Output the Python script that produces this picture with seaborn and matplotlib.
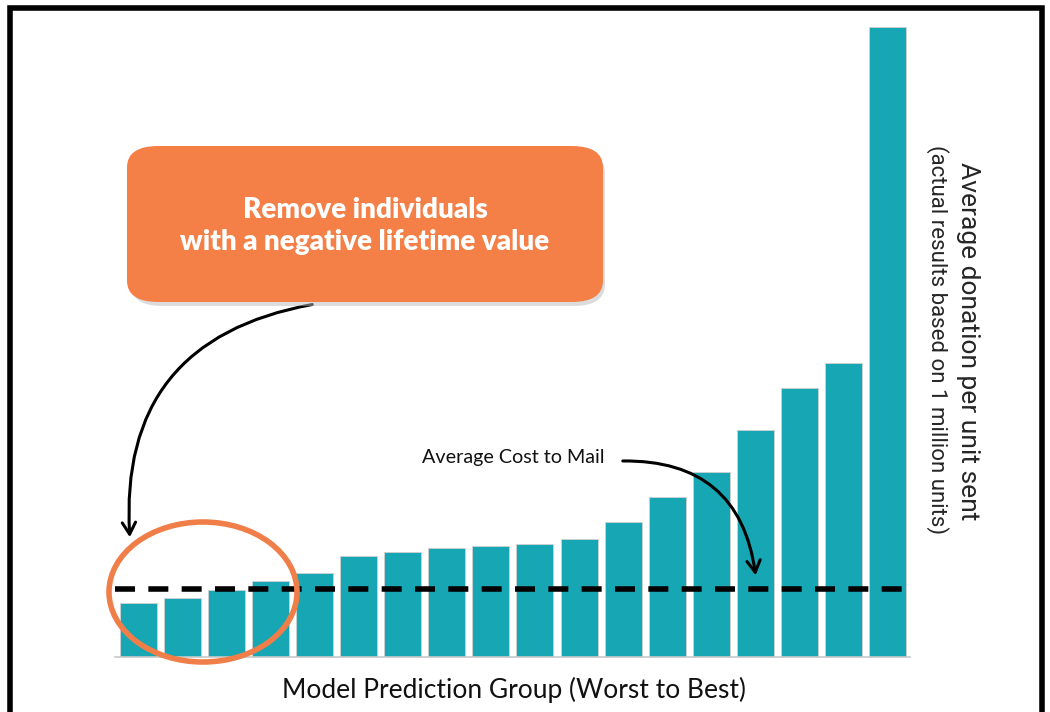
import numpy as np
import pandas as pd
import seaborn as sns
import matplotlib.pyplot as plt
from matplotlib.patches import Ellipse, FancyBboxPatch, Rectangle

# Dados (doação média por grupo, pior -> melhor)
groups = [f"G{i}" for i in range(1, 19)]
donation = [0.54, 0.59, 0.67, 0.76, 0.84, 1.01, 1.05, 1.09, 1.11,
            1.13, 1.18, 1.35, 1.60, 1.85, 2.27, 2.69, 2.94, 6.30]
avg_cost = 0.68

df = pd.DataFrame({"grupo": groups, "doacao": donation})

sns.set_theme(style="white")
plt.rcParams["font.family"] = ["Lato", "DejaVu Sans"]

fig = plt.figure(figsize=(10.5, 7.12), dpi=100)
ax = fig.add_axes([115 / 1050, 1 - 657 / 712, 795 / 1050, 630 / 712])

sns.barplot(data=df, x="grupo", y="doacao", color="#17A6B4", saturation=1,
            width=0.84, edgecolor="#d0d0d0", linewidth=0.6, ax=ax)
ax.set_ylim(0, max(donation))
ax.set_xlim(-0.53, len(groups) - 0.49)
ax.axhline(avg_cost, color="black", lw=4, ls=(0, (3.6, 2.4)), zorder=5)

ax.set_xticks([])
ax.set_yticks([])
ax.set_xlabel("")
ax.set_ylabel("")
for s in ["top", "right", "left"]:
    ax.spines[s].set_visible(False)
ax.spines["bottom"].set_color("#c8c8c8")
ax.spines["bottom"].set_linewidth(1.2)

# moldura preta
fig.patches.append(Rectangle((10 / 1050, -0.05), 1032 / 1050, 1 - 8 / 712 + 0.05,
                             transform=fig.transFigure, fill=False,
                             edgecolor="black", lw=4))

fig.text(514 / 1050, 1 - 690 / 712, "Model Prediction Group (Worst to Best)",
         ha="center", va="center", fontsize=19, color="#111111")
fig.text(968 / 1050, 1 - 341 / 712, "Average donation per unit sent",
         rotation=270, ha="center", va="center", fontsize=19,
         family=["Roboto", "DejaVu Sans"])
fig.text(937 / 1050, 1 - 340 / 712, "(actual results based on 1 million units)",
         rotation=270, ha="center", va="center", fontsize=16,
         family=["Roboto", "DejaVu Sans"])

# caixa laranja
shadow = FancyBboxPatch((131 / 1050, 1 - 306 / 712), 474 / 1050, 154 / 712,
                        boxstyle="round,pad=0,rounding_size=0.03",
                        transform=fig.transFigure, facecolor="#bbbbbb",
                        edgecolor="none", alpha=0.5, zorder=6)
box = FancyBboxPatch((127 / 1050, 1 - 302 / 712), 476 / 1050, 156 / 712,
                     boxstyle="round,pad=0,rounding_size=0.03",
                     transform=fig.transFigure, facecolor="#F47F47",
                     edgecolor="none", zorder=7)
fig.patches.extend([shadow, box])
fig.text(365 / 1050, 1 - 226 / 712,
         "Remove individuals\nwith a negative lifetime value",
         ha="center", va="center", fontsize=20, fontweight="heavy",
         color="white", linespacing=1.3, zorder=8)

# elipse
ell = Ellipse((203 / 1050, 1 - 592 / 712), 188 / 1050, 140 / 712,
              transform=fig.transFigure, fill=False, edgecolor="#F07E48",
              lw=4, zorder=9)
fig.patches.append(ell)

# setas
ax.annotate("", xy=(130 / 1050, 1 - 540 / 712), xycoords="figure fraction",
            xytext=(315 / 1050, 1 - 304 / 712), textcoords="figure fraction",
            arrowprops=dict(arrowstyle="->,head_length=0.7,head_width=0.4",
                            color="black", lw=2.2,
                            connectionstyle="arc3,rad=0.45"), zorder=10)
fig.text(422 / 1050, 1 - 458 / 712, "Average Cost to Mail", ha="left",
         va="center", fontsize=14.2, color="#111111")
ax.annotate("", xy=(756 / 1050, 1 - 578 / 712), xycoords="figure fraction",
            xytext=(620 / 1050, 1 - 461 / 712), textcoords="figure fraction",
            arrowprops=dict(arrowstyle="->,head_length=0.7,head_width=0.4",
                            color="black", lw=2.2,
                            connectionstyle="arc3,rad=-0.45"), zorder=10)

plt.savefig("out.png", dpi=100)
plt.close()
